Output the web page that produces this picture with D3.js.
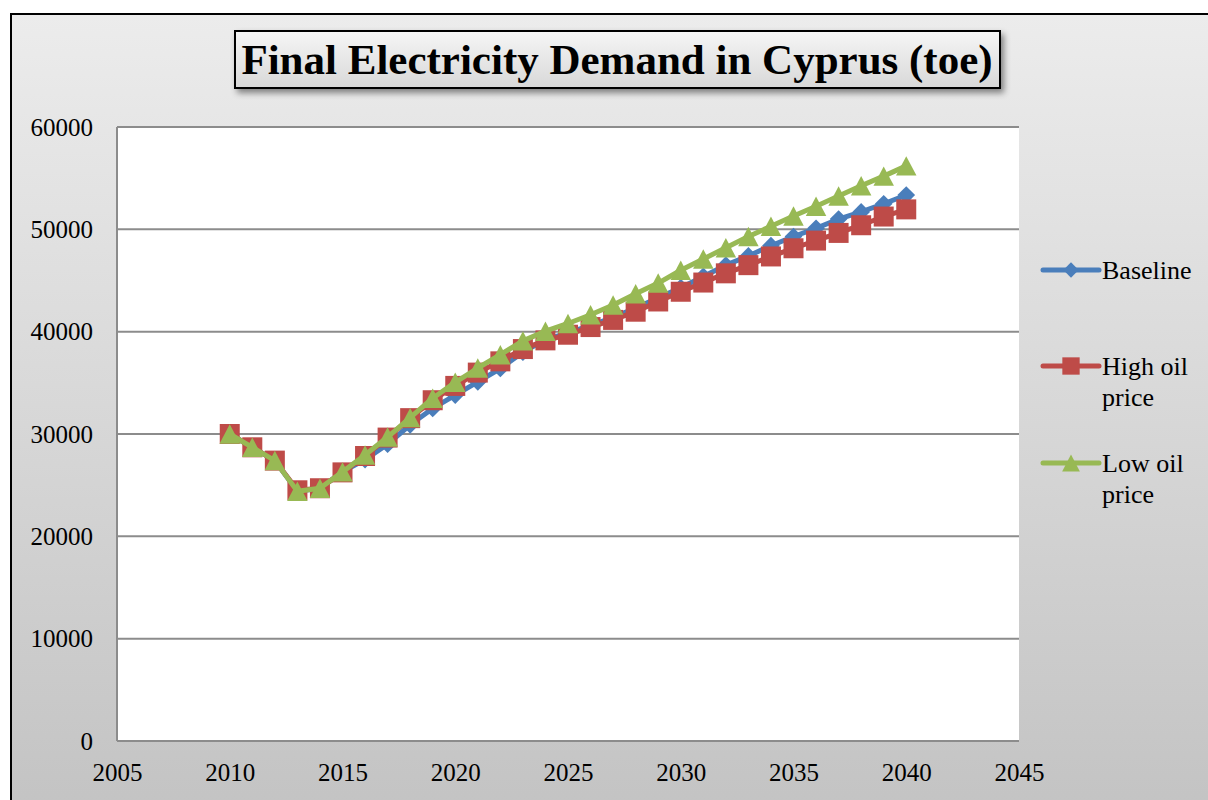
<!DOCTYPE html>
<html>
<head>
<meta charset="utf-8">
<script src="https://cdn.jsdelivr.net/npm/d3@7/dist/d3.min.js"></script>
<style>
  body { margin: 0; background: #fff; }
  svg { display: block; }
  text { font-family: "Liberation Serif", "Times New Roman", serif; fill: #000; }
</style>
</head>
<body>
<div id="chart"></div>
<script>
const years = d3.range(2010, 2041);

const baseline = [30000, 28700, 27400, 24400, 24700, 26300, 27500, 29000, 30900, 32500,
  33800, 35100, 36400, 38000, 39200, 39900, 40600, 41400, 42300, 43300,
  44300, 45400, 46500, 47400, 48400, 49300, 50100, 51000, 51700, 52500, 53350];

const highOil = [30000, 28700, 27400, 24500, 24700, 26250, 27850, 29650, 31550, 33300,
  34700, 36000, 37100, 38300, 39150, 39700, 40450, 41150, 41950, 42950,
  43900, 44800, 45700, 46500, 47350, 48150, 48900, 49650, 50400, 51250, 51950];

const lowOil = [30000, 28700, 27400, 24400, 24700, 26300, 27950, 29700, 31600, 33500,
  35050, 36450, 37750, 39100, 40050, 40800, 41650, 42600, 43700, 44750,
  46000, 47100, 48200, 49300, 50300, 51300, 52250, 53250, 54250, 55200, 56200];

const xTicks = [2005, 2010, 2015, 2020, 2025, 2030, 2035, 2040, 2045];
const yTicks = [0, 10000, 20000, 30000, 40000, 50000, 60000];

// triangle centred on its bounding box, like the spreadsheet marker
const boxTriangle = {
  draw(ctx, size) {
    const w = Math.sqrt(size), h = w * 0.95;
    ctx.moveTo(0, -h / 2);
    ctx.lineTo(w / 2, h / 2);
    ctx.lineTo(-w / 2, h / 2);
    ctx.closePath();
  }
};

const series = [
  { name: ['Baseline'], values: baseline, color: '#4a7ebb', symbol: d3.symbolDiamond2, size: 200 },
  { name: ['High oil', 'price'], values: highOil, color: '#be4b48', symbol: d3.symbolSquare, size: 400 },
  { name: ['Low oil', 'price'], values: lowOil, color: '#98b954', symbol: boxTriangle, size: 420 }
];

const W = 1208, H = 800;
const plot = { left: 117, right: 1019, top: 127, bottom: 741 };

const svg = d3.select('#chart').append('svg')
  .attr('width', W).attr('height', H);

const defs = svg.append('defs');
const bg = defs.append('linearGradient').attr('id', 'bg')
  .attr('x1', 0).attr('y1', 0).attr('x2', 0).attr('y2', 1);
bg.append('stop').attr('offset', '0%').attr('stop-color', '#ececec');
bg.append('stop').attr('offset', '100%').attr('stop-color', '#c2c2c2');

const tbg = defs.append('linearGradient').attr('id', 'tbg')
  .attr('x1', 0).attr('y1', 0).attr('x2', 0).attr('y2', 1);
tbg.append('stop').attr('offset', '0%').attr('stop-color', '#f6f6f6');
tbg.append('stop').attr('offset', '100%').attr('stop-color', '#d8d8d8');

const shadow = defs.append('filter').attr('id', 'shadow')
  .attr('x', '-5%').attr('y', '-20%').attr('width', '115%').attr('height', '150%');
shadow.append('feDropShadow').attr('dx', 3).attr('dy', 4).attr('stdDeviation', 3)
  .attr('flood-color', '#000').attr('flood-opacity', 0.45);

// outer chart frame
svg.append('rect')
  .attr('x', 11).attr('y', 14).attr('width', W + 20).attr('height', H + 20)
  .attr('fill', 'url(#bg)').attr('stroke', '#000').attr('stroke-width', 2);

// title box
svg.append('rect')
  .attr('x', 235).attr('y', 31).attr('width', 765).attr('height', 57)
  .attr('fill', 'url(#tbg)').attr('stroke', '#000').attr('stroke-width', 2)
  .attr('filter', 'url(#shadow)');
svg.append('text')
  .attr('x', 617).attr('y', 74)
  .attr('text-anchor', 'middle')
  .style('font-size', '43px').style('font-weight', 'bold')
  .text('Final Electricity Demand in Cyprus (toe)');

const x = d3.scaleLinear().domain([2005, 2045]).range([plot.left, plot.right]);
const y = d3.scaleLinear().domain([0, 60000]).range([plot.bottom, plot.top]);

// plot area
svg.append('rect')
  .attr('x', plot.left).attr('y', plot.top)
  .attr('width', plot.right - plot.left).attr('height', plot.bottom - plot.top)
  .attr('fill', '#fff');

svg.append('g')
  .selectAll('line')
  .data(yTicks)
  .join('line')
  .attr('x1', plot.left).attr('x2', plot.right)
  .attr('y1', d => y(d)).attr('y2', d => y(d))
  .attr('stroke', '#8c8c8c').attr('stroke-width', 2);

svg.append('line')
  .attr('x1', plot.left).attr('x2', plot.left)
  .attr('y1', plot.top).attr('y2', plot.bottom)
  .attr('stroke', '#8c8c8c').attr('stroke-width', 2);

// axes labels
const yAxis = svg.append('g')
  .attr('transform', `translate(${plot.left},0)`)
  .call(d3.axisLeft(y).tickValues(yTicks).tickFormat(d3.format('d')).tickSize(0).tickPadding(24));
yAxis.select('.domain').remove();
yAxis.selectAll('text').style('font-size', '25px').style('fill', '#000');

const xAxis = svg.append('g')
  .attr('transform', `translate(0,${plot.bottom})`)
  .call(d3.axisBottom(x).tickValues(xTicks).tickFormat(d3.format('d')).tickSize(0).tickPadding(22));
xAxis.select('.domain').remove();
xAxis.selectAll('text').style('font-size', '25px').style('fill', '#000');

// series
const line = d3.line().x((d, i) => x(years[i])).y(d => y(d));

series.forEach(s => {
  const g = svg.append('g');
  g.append('path')
    .datum(s.values)
    .attr('d', line)
    .attr('fill', 'none')
    .attr('stroke', s.color)
    .attr('stroke-width', 5)
    .attr('stroke-linejoin', 'round');
  g.selectAll('path.m')
    .data(s.values)
    .join('path')
    .attr('class', 'm')
    .attr('transform', (d, i) => `translate(${x(years[i])},${y(d)})`)
    .attr('d', d3.symbol().type(s.symbol).size(s.size))
    .attr('fill', s.color);
});

// legend
const legendY = [270, 366, 463];
series.forEach((s, i) => {
  const g = svg.append('g').attr('transform', `translate(1043,${legendY[i]})`);
  g.append('line')
    .attr('x1', 0).attr('x2', 56)
    .attr('stroke', s.color).attr('stroke-width', 5).attr('stroke-linecap', 'round');
  g.append('path')
    .attr('transform', 'translate(28,0)')
    .attr('d', d3.symbol().type(s.symbol).size(s.size * 0.75))
    .attr('fill', s.color);
  g.append('text')
    .attr('x', 59).attr('y', 9)
    .style('font-size', '26px')
    .selectAll('tspan')
    .data(s.name)
    .join('tspan')
    .attr('x', 59)
    .attr('dy', (d, j) => j === 0 ? 0 : 31)
    .text(d => d);
});
</script>
</body>
</html>
